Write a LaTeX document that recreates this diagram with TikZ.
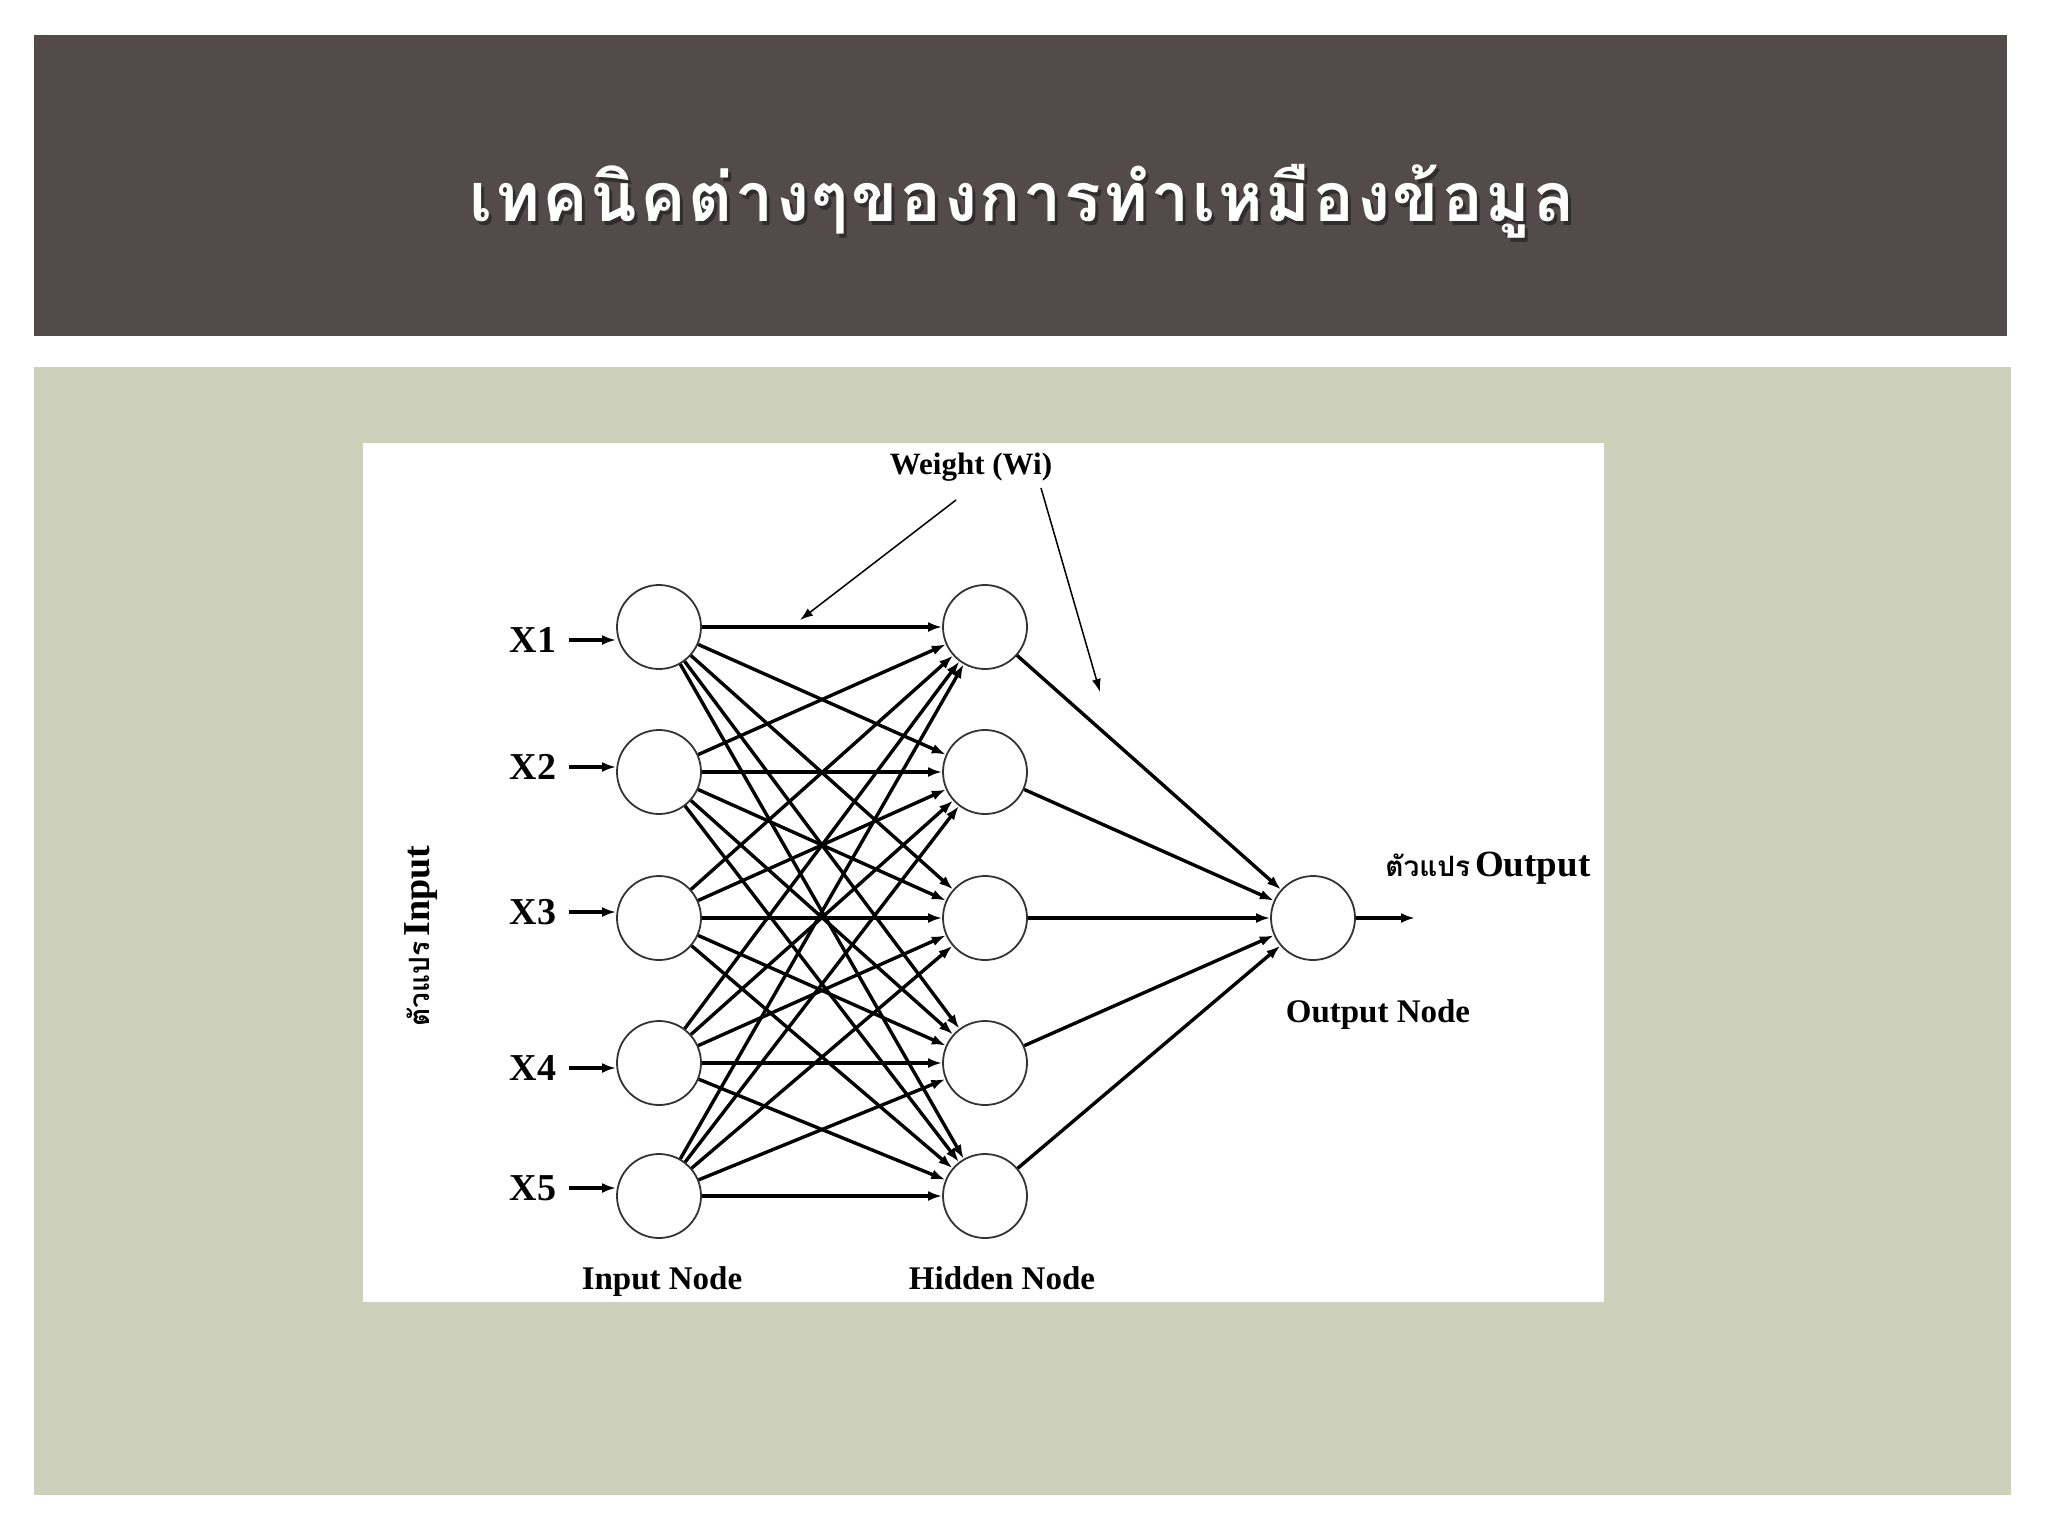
\documentclass[tikz,border=0pt]{standalone}
\usepackage{fontspec}
\setmainfont{Liberation Serif}
\newfontfamily\thaifont[Script=Thai]{Loma}
\newfontfamily\thaititle[Script=Thai,LetterSpace=4]{Loma}
\usetikzlibrary{arrows.meta}
\definecolor{hdr}{RGB}{83,74,75}
\definecolor{panel}{RGB}{205,209,187}
\begin{document}
\begin{tikzpicture}[x=0.5pt,y=-0.5pt,
  neuron/.style={circle,draw=black!80,line width=0.9pt,minimum size=42pt,inner sep=0pt},
  conn/.style={line width=1.7pt,-{Latex[length=7pt,width=5pt]}},
  thinarrow/.style={line width=0.75pt,-{Latex[length=6.5pt,width=4.5pt]}},
  lbl/.style={font=\bfseries\fontsize{19}{19}\selectfont,inner sep=0pt},
  captxt/.style={font=\bfseries\fontsize{16.5}{16.5}\selectfont,inner sep=0pt,anchor=base},
  titletext/.style={font=\thaititle\bfseries\fontsize{34}{34}\selectfont,inner sep=0pt},
]
\useasboundingbox (0,0) rectangle (2048,1536);
\fill[white] (0,0) rectangle (2048,1536);
\fill[hdr] (34,35) rectangle (2007,336);
\fill[panel] (34,367) rectangle (2011,1495);
\fill[white] (363,443) rectangle (1604,1302);

% title
\node[titletext,text=black,opacity=0.4] (titleshadow) at (1025,205) {เทคนิคต่างๆของการทำเหมืองข้อมูล};
\node[titletext,text=white] (title) at (1022,201) {เทคนิคต่างๆของการทำเหมืองข้อมูล};

% nodes
\foreach \i/\y in {1/627,2/772,3/918,4/1063,5/1196}{
  \node[neuron] (in\i) at (659,\y) {};
  \node[neuron] (hid\i) at (985,\y) {};
}
\node[neuron] (out) at (1313,918) {};

% labels X
\foreach \i/\y in {1/640,2/767,3/912,4/1068,5/1188}{
  \node[lbl] (x\i) at (533,\y) {X\i};
  \draw[conn] ([xshift=6pt]x\i.east) -- (x\i.east -| in\i.west);
}

% connections
\foreach \i in {1,...,5}{
  \foreach \j in {1,...,5}{
    \draw[conn] (in\i) -- (hid\j);
  }
  \draw[conn] (hid\i) -- (out);
}
\coordinate (outtip) at (1415,918);
\draw[conn] (out) -- (outtip);

% weight label
\node[font=\bfseries\fontsize{15.5}{15.5}\selectfont,inner sep=0pt] (weight) at (971,467) {Weight (Wi)};
\coordinate (w1s) at (956,500);
\coordinate (w1t) at (800,620);
\coordinate (w2s) at (1041,488);
\coordinate (w2t) at (1100,692);
\draw[thinarrow] (w1s) -- (w1t);
\draw[thinarrow] (w2s) -- (w2t);

% captions
\node[captxt] (inputcap) at (662,1289) {Input Node};
\node[captxt] (hiddencap) at (1002,1289) {Hidden Node};
\node[captxt] (outputcap) at (1378,1022) {Output Node};
\node[inner sep=0pt,anchor=west] (outvar) at (1385,868) {{\thaifont\bfseries\fontsize{14}{14}\selectfont ตัวแปร} {\bfseries\fontsize{18.5}{18.5}\selectfont Output}};
\node[inner sep=0pt,rotate=90] (invar) at (421,936) {{\thaifont\bfseries\fontsize{14}{14}\selectfont ตัวแปร} {\bfseries\fontsize{19}{19}\selectfont Input}};
\end{tikzpicture}
\end{document}
